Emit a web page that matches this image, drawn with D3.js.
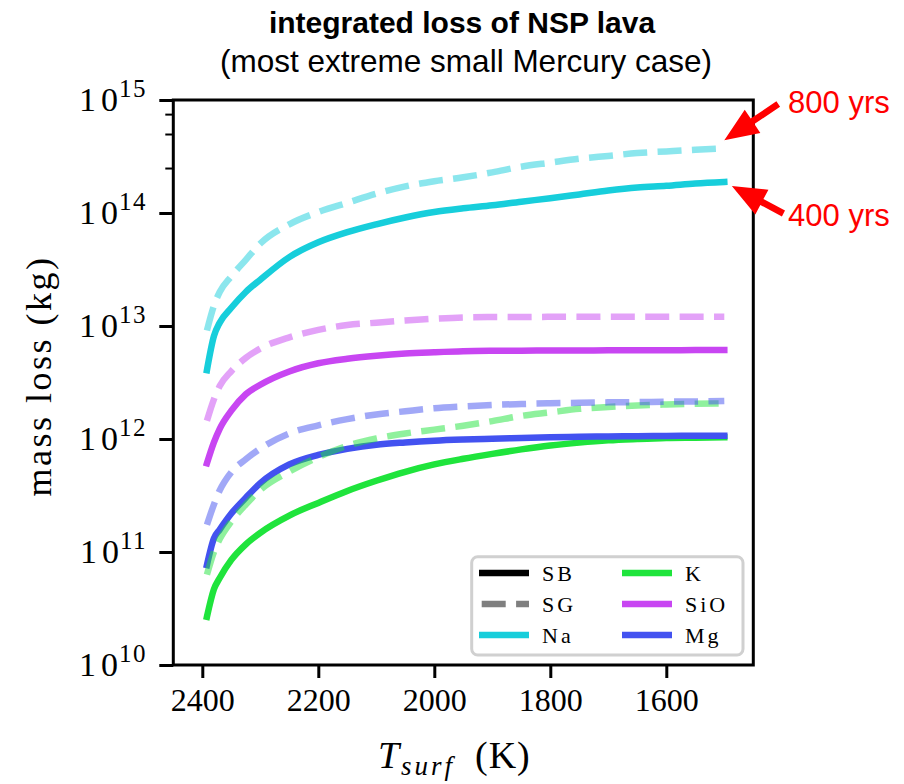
<!DOCTYPE html>
<html><head><meta charset="utf-8">
<script src="https://cdn.jsdelivr.net/npm/d3@7"></script>
<style>body{margin:0;background:#fff}</style>
</head><body>
<svg id="chart" width="904" height="784"></svg>
<script>
// ---------- data ----------
const temps = [2392, 2380, 2370, 2350, 2325, 2300, 2250, 2200, 2150, 2100, 2050, 2000, 1950, 1900, 1850, 1800, 1750, 1700, 1650, 1600, 1550, 1500];
const naSB = [4.07e12, 8.13e12, 1.07e13, 1.45e13, 2.0e13, 2.57e13, 4.07e13, 5.5e13, 6.76e13, 7.94e13, 9.12e13, 1.02e14, 1.10e14, 1.17e14, 1.26e14, 1.35e14, 1.46e14, 1.58e14, 1.68e14, 1.74e14, 1.82e14, 1.88e14];
const naSG = [9.12e12, 1.51e13, 2.0e13, 2.75e13, 3.85e13, 5.37e13, 7.94e13, 1.02e14, 1.23e14, 1.48e14, 1.72e14, 1.91e14, 2.07e14, 2.29e14, 2.57e14, 2.79e14, 3.02e14, 3.2e14, 3.39e14, 3.51e14, 3.63e14, 3.72e14];
const kSB = [2.67e10, 4.68e10, 5.89e10, 8.51e10, 1.17e11, 1.48e11, 2.1e11, 2.72e11, 3.47e11, 4.27e11, 5.13e11, 5.96e11, 6.68e11, 7.38e11, 8.09e11, 8.75e11, 9.29e11, 9.73e11, 1.0e12, 1.021e12, 1.028e12, 1.035e12];
const kSG = [6.31e10, 1.0e11, 1.30e11, 1.86e11, 2.63e11, 3.55e11, 5.16e11, 6.92e11, 8.71e11, 1.01e12, 1.12e12, 1.21e12, 1.31e12, 1.44e12, 1.60e12, 1.72e12, 1.85e12, 1.92e12, 1.98e12, 2.02e12, 2.05e12, 2.07e12];
const sioSB = [6.1e11, 9.33e11, 1.23e12, 1.78e12, 2.49e12, 3.02e12, 3.96e12, 4.68e12, 5.13e12, 5.46e12, 5.71e12, 5.86e12, 5.98e12, 6.03e12, 6.05e12, 6.07e12, 6.08e12, 6.09e12, 6.10e12, 6.11e12, 6.12e12, 6.13e12];
const sioSG = [1.45e12, 2.24e12, 2.94e12, 3.98e12, 5.22e12, 6.31e12, 7.94e12, 9.23e12, 1.02e13, 1.07e13, 1.12e13, 1.16e13, 1.19e13, 1.20e13, 1.20e13, 1.205e13, 1.205e13, 1.21e13, 1.21e13, 1.21e13, 1.21e13, 1.21e13];
const mgSB = [7.67e10, 1.32e11, 1.58e11, 2.19e11, 3.02e11, 4.07e11, 5.96e11, 7.24e11, 8.18e11, 8.91e11, 9.33e11, 9.66e11, 9.89e11, 1.007e12, 1.023e12, 1.038e12, 1.047e12, 1.054e12, 1.059e12, 1.064e12, 1.067e12, 1.069e12];
const mgSG = [1.74e11, 2.63e11, 3.51e11, 5.09e11, 6.61e11, 8.22e11, 1.12e12, 1.32e12, 1.50e12, 1.65e12, 1.76e12, 1.87e12, 1.94e12, 2.0e12, 2.04e12, 2.07e12, 2.09e12, 2.11e12, 2.12e12, 2.14e12, 2.15e12, 2.17e12];

const species = ["Na", "K", "SiO", "Mg"];
const speciesColors = ["#17cedb", "#1fe43c", "#c846f2", "#4352f0"];
const sbSeries = [naSB, kSB, sioSB, mgSB];
const sgSeries = [naSG, kSG, sioSG, mgSG];

const xTicks = [2400, 2200, 2000, 1800, 1600];
const yTicks = [1e10, 1e11, 1e12, 1e13, 1e14, 1e15];
const yTickExp = ["10", "11", "12", "13", "14", "15"];
const yMinorTicks = [2.5e14, 5e14, 7.5e14];

const legendLabels = ["SB", "SG", "Na", "K", "SiO", "Mg"];
const annotations = [
  {text: "800 yrs", tipT: 1500, tipV: 4.4e14, tailT: 1407, tailV: 9.2e14, textT: 1390, textV: 7.6e14},
  {text: "400 yrs", tipT: 1487, tipV: 1.73e14, tailT: 1398, tailV: 9.9e13, textT: 1390, textV: 7.6e13}
];

// ---------- layout ----------
const L = 173.3, R = 753.3, T = 100, B = 665;
const svg = d3.select("#chart");
const x = d3.scaleLinear().domain([2450, 1450]).range([L, R]);
const y = d3.scaleLog().domain([1e10, 1e15]).range([B, T]);
const serif = "'Liberation Serif', 'DejaVu Serif', serif";
const sans = "'Liberation Sans', Arial, Helvetica, sans-serif";

// title
svg.append("text").attr("x", 462).attr("y", 33).attr("text-anchor", "middle")
  .attr("font-family", sans).attr("font-weight", "bold").attr("font-size", 30)
  .text("integrated loss of NSP lava");
svg.append("text").attr("x", 466).attr("y", 72).attr("text-anchor", "middle")
  .attr("font-family", sans).attr("font-size", 31.5)
  .text("(most extreme small Mercury case)");

// lines
const line = d3.line().x((d, i) => x(temps[i])).y(d => y(d)).curve(d3.curveMonotoneX);
const plot = svg.append("g");
sbSeries.forEach((s, i) => {
  plot.append("path").attr("d", line(s)).attr("fill", "none")
    .attr("stroke", speciesColors[i]).attr("stroke-width", 6.5)
    .attr("stroke-linecap", "square").attr("stroke-linejoin", "round");
});
sgSeries.forEach((s, i) => {
  plot.append("path").attr("d", line(s)).attr("fill", "none")
    .attr("stroke", speciesColors[i]).attr("stroke-width", 6.5)
    .attr("stroke-opacity", 0.5).attr("stroke-dasharray", "24,10.4")
    .attr("stroke-linejoin", "round");
});

// axes
const xAxis = svg.append("g").attr("transform", `translate(0,${B})`)
  .call(d3.axisBottom(x).tickValues(xTicks).tickSize(13).tickPadding(10).tickFormat(d3.format("d")));
xAxis.select(".domain").remove();
xAxis.selectAll(".tick line").attr("stroke", "#000").attr("stroke-width", 3);
xAxis.selectAll(".tick text").attr("font-family", serif).attr("font-size", 32).attr("fill", "#000");

const yAxis = svg.append("g").attr("transform", `translate(${L},0)`)
  .call(d3.axisLeft(y).tickValues(yTicks).tickSize(14).tickFormat(""));
yAxis.select(".domain").remove();
yAxis.selectAll(".tick line").attr("stroke", "#000").attr("stroke-width", 3);
const yMinor = svg.append("g").attr("transform", `translate(${L},0)`)
  .call(d3.axisLeft(y).tickValues(yMinorTicks).tickSize(8).tickFormat(""));
yMinor.select(".domain").remove();
yMinor.selectAll(".tick line").attr("stroke", "#000").attr("stroke-width", 2);

yTicks.forEach((v, i) => {
  const t = svg.append("text").attr("x", 147).attr("y", y(v) + 11)
    .attr("text-anchor", "end").attr("font-family", serif).attr("font-size", 34).attr("fill", "#000");
  t.append("tspan").attr("letter-spacing", 5).text("1");
  t.append("tspan").attr("letter-spacing", 1).text("0");
  t.append("tspan").attr("dy", -14).attr("font-size", 25).attr("letter-spacing", 1.5).text(yTickExp[i]);
});

// spines
svg.append("rect").attr("x", L).attr("y", T).attr("width", R - L).attr("height", B - T)
  .attr("fill", "none").attr("stroke", "#000").attr("stroke-width", 3);

// axis labels
svg.append("text").attr("transform", `translate(51,376) rotate(-90)`)
  .attr("text-anchor", "middle").attr("font-family", serif).attr("font-size", 36)
  .attr("letter-spacing", 2.5)
  .text("mass loss (kg)");
const xl = svg.append("text").attr("y", 768)
  .attr("font-family", serif).attr("font-size", 38);
xl.append("tspan").attr("x", 378).attr("font-style", "italic").text("T");
xl.append("tspan").attr("x", 401).attr("font-style", "italic").attr("font-size", 27).attr("dy", 7).attr("letter-spacing", 3).text("surf");
xl.append("tspan").attr("x", 475).attr("dy", -7).attr("letter-spacing", 1).text("(K)");

// legend
const lg = svg.append("g");
lg.append("rect").attr("x", 471.7).attr("y", 556.7).attr("width", 271.3).attr("height", 98.3)
  .attr("rx", 6).attr("fill", "#fff").attr("fill-opacity", 0.8)
  .attr("stroke", "#d0d0d0").attr("stroke-width", 3);
const legendStyles = [
  {c: "#000", o: 1, dash: null},
  {c: "#000", o: 0.5, dash: "24,10.4"},
  {c: speciesColors[0], o: 1, dash: null},
  {c: speciesColors[1], o: 1, dash: null},
  {c: speciesColors[2], o: 1, dash: null},
  {c: speciesColors[3], o: 1, dash: null}
];
legendLabels.forEach((lab, i) => {
  const col = Math.floor(i / 3), row = i % 3;
  const lx = 479 + col * 143, ly = 573 + row * 31;
  const st = legendStyles[i];
  const p = lg.append("line").attr("x1", lx).attr("x2", lx + 50).attr("y1", ly).attr("y2", ly)
    .attr("stroke", st.c).attr("stroke-opacity", st.o).attr("stroke-width", 6.5);
  if (st.dash) p.attr("stroke-dasharray", st.dash).attr("stroke-dashoffset", 31.7);
  lg.append("text").attr("x", lx + 63).attr("y", ly + 8).attr("font-family", serif)
    .attr("font-size", 22).attr("letter-spacing", 3).text(lab);
});

// annotations
annotations.forEach(a => {
  const x1 = x(a.tailT), y1 = y(a.tailV), x2 = x(a.tipT), y2 = y(a.tipV);
  const dx = x2 - x1, dy = y2 - y1, len = Math.hypot(dx, dy);
  const ux = dx / len, uy = dy / len, nx = -uy, ny = ux;
  const hl = 34, hw = 14, sw = 3.3;
  const bx = x2 - ux * hl, by = y2 - uy * hl;
  const pts = [
    [x1 + nx * sw, y1 + ny * sw], [bx + nx * sw, by + ny * sw], [bx + nx * hw, by + ny * hw],
    [x2, y2], [bx - nx * hw, by - ny * hw], [bx - nx * sw, by - ny * sw], [x1 - nx * sw, y1 - ny * sw]
  ];
  svg.append("path").attr("d", "M" + pts.map(p => p.join(",")).join("L") + "Z").attr("fill", "#ff0000");
  svg.append("text").attr("x", x(a.textT)).attr("y", y(a.textV)).attr("font-family", sans)
    .attr("font-size", 31).attr("fill", "#ff0000").text(a.text);
});
</script>
</body></html>
